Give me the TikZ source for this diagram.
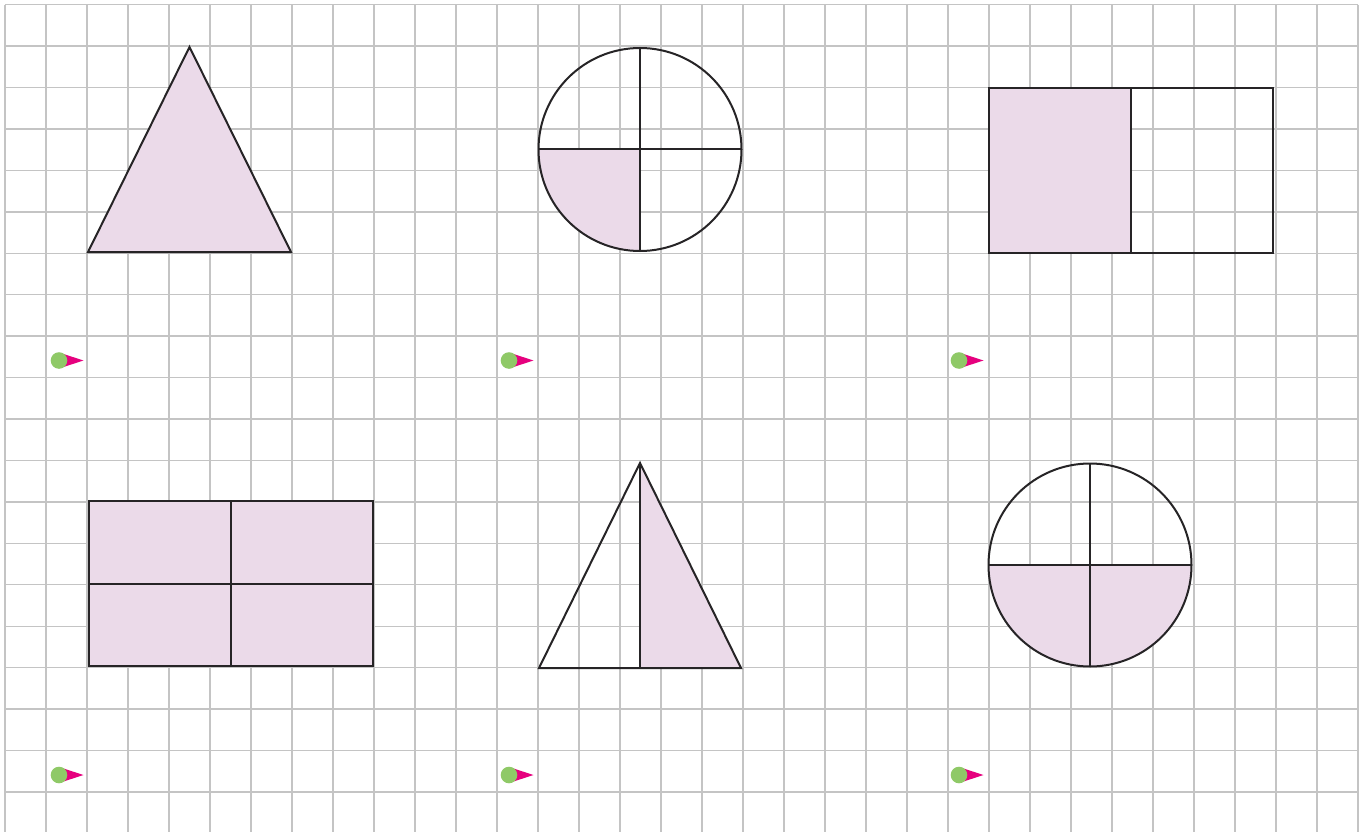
\documentclass[tikz,border=0pt]{standalone}
\definecolor{gridc}{RGB}{196,196,196}
\definecolor{fillp}{RGB}{235,218,233}
\definecolor{edgec}{RGB}{38,36,38}
\definecolor{bgreen}{RGB}{143,201,103}
\definecolor{bpink}{RGB}{230,0,126}
\begin{document}
\begin{tikzpicture}[x=1pt,y=-1pt,
  gridline/.style={draw=gridc,line width=1.4pt},
  figedge/.style={draw=edgec,line width=2pt},
  pinkfill/.style={fill=fillp}]
\useasboundingbox (0,0) rectangle (1368,832);
\fill[white] (0,0) rectangle (1368,832);
% grid
\foreach \i in {0,...,33} \draw[gridline] ({5+41*\i},4.6) -- ({5+41*\i},832);
\foreach \j in {0,...,19} \draw[gridline] (5,{4.6+41.44*\j}) -- (1358,{4.6+41.44*\j});
% triangle 1 (fully shaded)
\filldraw[pinkfill,figedge] (88,252) -- (189.5,47) -- (291,252) -- cycle;
% circle 1 (one quarter shaded)
\begin{scope}
  \clip (530,149.5) rectangle (640,260);
  \fill[fillp] (640,149.5) circle[radius=101.5];
\end{scope}
\draw[figedge] (640,149.5) circle[radius=101.5];
\draw[figedge] (538.5,149.5) -- (741.5,149.5);
\draw[figedge] (640,48) -- (640,251);
% rectangle 1 (half shaded)
\fill[fillp] (989,88) rectangle (1131,253);
\draw[figedge] (989,88) rectangle (1273,253);
\draw[figedge] (1131,88) -- (1131,253);
% rectangle 2 (fully shaded)
\filldraw[pinkfill,figedge] (89,501) rectangle (373,666);
\draw[figedge] (231,501) -- (231,666);
\draw[figedge] (89,583.5) -- (373,583.5);
% triangle 2 (half shaded)
\fill[fillp] (640,463) -- (640,668) -- (741,668) -- cycle;
\draw[figedge] (539,668) -- (640,463) -- (741,668) -- cycle;
\draw[figedge] (640,463) -- (640,668);
% circle 2 (half shaded)
\begin{scope}
  \clip (980,565) rectangle (1200,680);
  \fill[fillp] (1090,565) circle[radius=101.5];
\end{scope}
\draw[figedge] (1090,565) circle[radius=101.5];
\draw[figedge] (988.5,565) -- (1191.5,565);
\draw[figedge] (1090,463.5) -- (1090,666.5);
% bullets
\foreach \bx/\by in {59/360.5,509/360.5,959/360.5,59/775,509/775,959/775}{
  \fill[bpink] (\bx+3,\by-7) -- (\bx+24.5,\by) -- (\bx+3,\by+7) -- cycle;
  \fill[bgreen] (\bx,\by) circle[radius=8.3];
}
\end{tikzpicture}
\end{document}
